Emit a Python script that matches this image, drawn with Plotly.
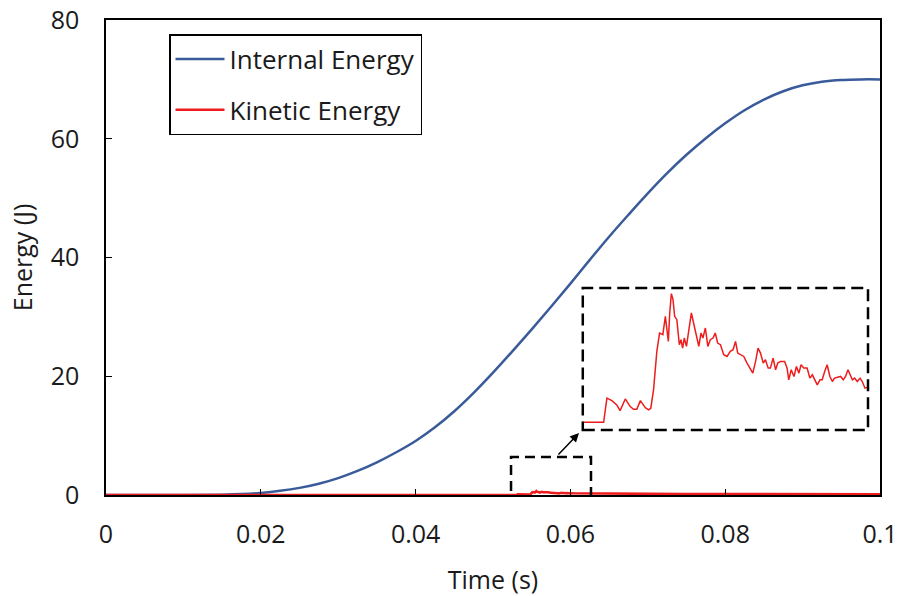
import plotly.graph_objects as go

# ---- data ----
time_ie = [0, 0.01, 0.015, 0.0175, 0.02, 0.0225, 0.025, 0.0275, 0.03, 0.0325, 0.035, 0.0375,
           0.04, 0.0425, 0.045, 0.0475, 0.05, 0.0525, 0.055, 0.0575, 0.06, 0.0625, 0.065, 0.0675,
           0.07, 0.0725, 0.075, 0.0775, 0.08, 0.0825, 0.085, 0.0875, 0.09, 0.0925, 0.095, 0.0975, 0.1]
internal_energy = [0, 0, 0.05, 0.15, 0.35, 0.7, 1.2, 1.9, 2.85, 4.05, 5.5, 7.2,
                   9.1, 11.4, 14.1, 17.2, 20.6, 24.2, 27.9, 31.7, 35.6, 39.6, 43.5, 47.2,
                   50.8, 54.2, 57.3, 60.1, 62.6, 64.8, 66.6, 68.0, 69.0, 69.6, 69.9, 70.0, 70.0]

time_ke = [0, 0.0490, 0.05230, 0.05306, 0.05318, 0.05336, 0.05354, 0.05366, 0.05385, 0.05403,
           0.05415, 0.05427, 0.05440, 0.05458, 0.05470, 0.05478, 0.05488, 0.05500, 0.05510,
           0.05522, 0.05531, 0.05537, 0.05542, 0.05547, 0.05553, 0.05559, 0.05565, 0.05573,
           0.05582, 0.05588, 0.05594, 0.05600, 0.05608, 0.05616, 0.05626, 0.05634, 0.05644,
           0.05653, 0.05661, 0.05668, 0.05677, 0.05686, 0.05695, 0.05705, 0.05713, 0.05722,
           0.05732, 0.05744, 0.05756, 0.05768, 0.05778, 0.05787, 0.05795, 0.05805, 0.05817,
           0.05829, 0.05841, 0.05850, 0.05860, 0.05869, 0.05878, 0.05888, 0.05896, 0.05906,
           0.05914, 0.05924, 0.05933, 0.05941, 0.05951, 0.05966, 0.05975, 0.05981, 0.05990,
           0.06000, 0.06009, 0.06018, 0.06026, 0.06036, 0.06048, 0.06058, 0.06067, 0.06076,
           0.06085, 0.06095, 0.06103, 0.06112, 0.06121, 0.06131, 0.06140, 0.06148, 0.06158,
           0.06170, 0.06180, 0.06188, 0.06197, 0.06204, 0.06213, 0.06221, 0.06231, 0.06241,
           0.06249, 0.06259, 0.0632, 0.064, 0.066, 0.068, 0.07, 0.075, 0.08, 0.085, 0.09, 0.095, 0.1]
kinetic_energy = [0, 0, 0.000, 0.000, 0.130, 0.117, 0.094, 0.063, 0.126, 0.085,
                  0.070, 0.070, 0.117, 0.079, 0.067, 0.076, 0.175, 0.382, 0.481,
                  0.472, 0.571, 0.499, 0.436, 0.589, 0.693, 0.661, 0.571, 0.553,
                  0.418, 0.445, 0.400, 0.454, 0.409, 0.490, 0.589, 0.535, 0.463,
                  0.409, 0.481, 0.454, 0.508, 0.409, 0.445, 0.454, 0.481, 0.427,
                  0.418, 0.364, 0.355, 0.382, 0.391, 0.436, 0.373, 0.364, 0.355,
                  0.319, 0.292, 0.265, 0.328, 0.400, 0.373, 0.319, 0.337, 0.292,
                  0.292, 0.346, 0.283, 0.319, 0.328, 0.328, 0.292, 0.229, 0.283,
                  0.247, 0.301, 0.265, 0.310, 0.292, 0.292, 0.238, 0.256, 0.229,
                  0.202, 0.229, 0.229, 0.274, 0.310, 0.247, 0.220, 0.238, 0.243,
                  0.247, 0.229, 0.247, 0.283, 0.256, 0.229, 0.238, 0.220, 0.238,
                  0.220, 0.184, 0.21, 0.23, 0.20, 0.22, 0.19, 0.18, 0.16, 0.15, 0.14, 0.12, 0.11]

x_tickvals = [0, 0.02, 0.04, 0.06, 0.08, 0.1]
x_ticktext = ["0", "0.02", "0.04", "0.06", "0.08", "0.1"]
y_tickvals = [0, 20, 40, 60, 80]

zoom_time_range = [0.0523, 0.0627]
zoom_energy_range = [-0.0414, 0.7236]

BLUE = "#3A5B9A"
RED = "#EE1C1C"
FONT = "Open Sans"
TXT = "#1a1a1a"

fig = go.Figure()
fig.add_trace(go.Scatter(x=time_ie, y=internal_energy, mode="lines", name="Internal Energy",
                         line=dict(color=BLUE, width=2.5, shape="spline", smoothing=1.0),
                         legendgroup="a"))
fig.add_trace(go.Scatter(x=time_ke, y=kinetic_energy, mode="lines", name="Kinetic Energy",
                         line=dict(color=RED, width=2.5), legendgroup="b"))
# magnified inset of kinetic energy
fig.add_trace(go.Scatter(x=time_ke, y=kinetic_energy, mode="lines", showlegend=False,
                         line=dict(color=RED, width=1.5), xaxis="x2", yaxis="y2"))

axis_common = dict(showgrid=False, zeroline=False, showline=True, mirror=True,
                   linecolor="#000000", linewidth=1.5, ticks="inside", ticklen=6,
                   tickcolor="#000000", tickwidth=1.3, automargin=False,
                   ticklabeloverflow="allow",
                   tickfont=dict(family=FONT, size=25, color=TXT))

fig.update_layout(
    width=901, height=596,
    margin=dict(l=106, r=21, t=20, b=101),
    paper_bgcolor="white", plot_bgcolor="white",
    font=dict(family=FONT, color=TXT),
    xaxis=dict(range=[0, 0.1], tickvals=x_tickvals, ticktext=x_ticktext,
               ticklabelstandoff=16,
               title=dict(text="Time (s)", font=dict(family=FONT, size=25, color=TXT), standoff=23),
               **axis_common),
    yaxis=dict(range=[0, 80], tickvals=y_tickvals, ticklabelstandoff=20,
               title=dict(text="Energy (J)", font=dict(family=FONT, size=25, color=TXT), standoff=11),
               **axis_common),
    xaxis2=dict(domain=[0.616, 0.9845], range=zoom_time_range, anchor="y2", visible=False),
    yaxis2=dict(domain=[0.1368, 0.4358], range=zoom_energy_range, anchor="x2", visible=False),
    legend=dict(x=0.0814, y=0.9705, xanchor="left", yanchor="top",
                bordercolor="#000000", borderwidth=1.5, bgcolor="white",
                font=dict(family=FONT, size=26, color=TXT),
                tracegroupgap=14, itemwidth=49),
    showlegend=True,
)

# dashed box around the magnified region in the main plot
fig.add_shape(type="rect", xref="x", yref="y", x0=0.05233, x1=0.06266, y0=-0.34, y1=6.4,
              line=dict(color="black", width=2.5, dash="10px,6px"))
# dashed frame of the inset
fig.add_shape(type="rect", xref="paper", yref="paper", x0=0.616, x1=0.9845, y0=0.1368, y1=0.4358,
              line=dict(color="black", width=2.5, dash="12px,6px"))
# arrow from box to inset
fig.add_annotation(x=0.06111, y=10.44, ax=0.05827, ay=6.57, xref="x", yref="y",
                   axref="x", ayref="y", text="", showarrow=True, arrowhead=2,
                   arrowsize=1.2, arrowwidth=1.5, arrowcolor="black")

# remove the default page margin so the 901x596 figure fills the window exactly
fig.write_html("out.html", config={"displayModeBar": False},
               post_script="document.body.style.margin='0';document.body.style.overflow='hidden';")
